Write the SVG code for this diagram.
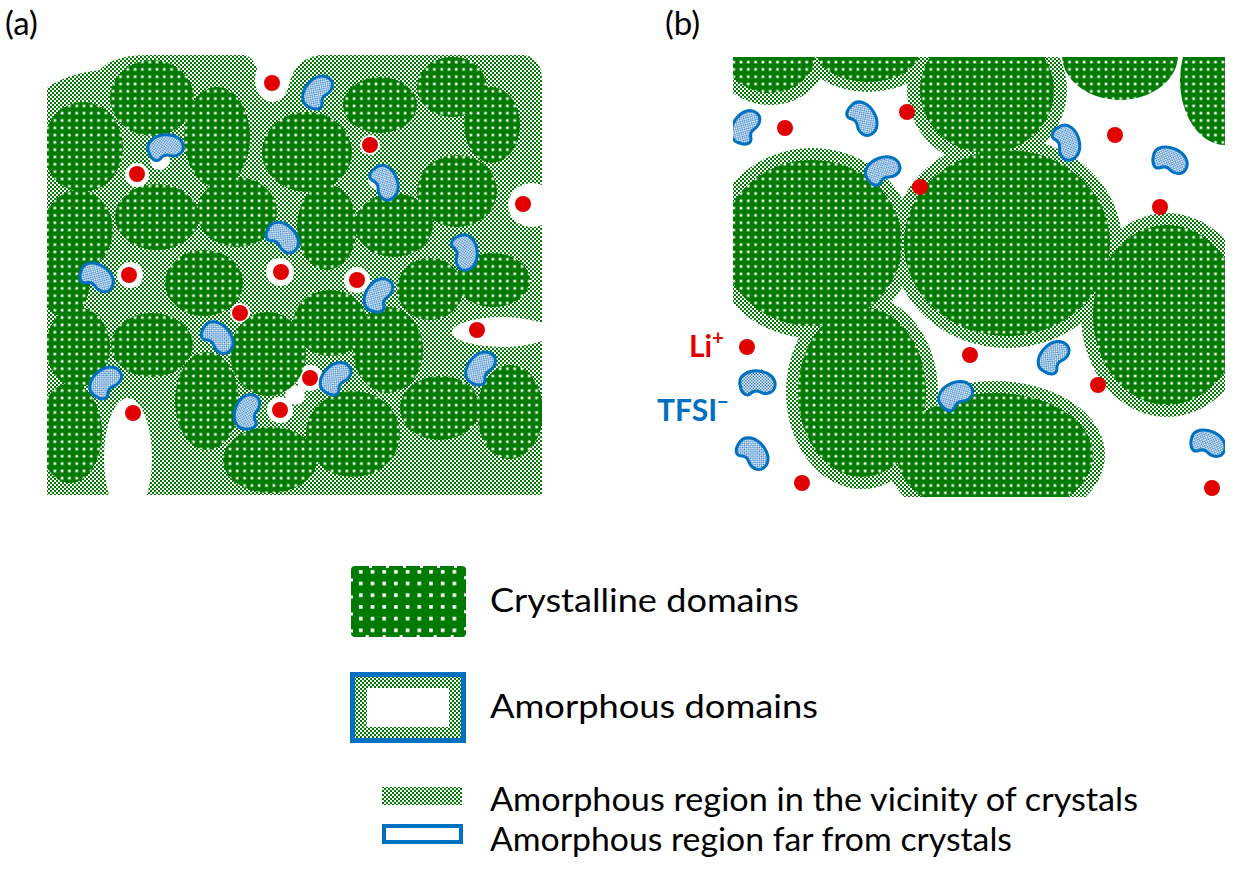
<svg xmlns="http://www.w3.org/2000/svg" xmlns:xlink="http://www.w3.org/1999/xlink" width="1238" height="894" viewBox="0 0 1238 894">
<style>
  .cr { fill: url(#crp); }
  .am { fill: url(#amp); }
  .wh { fill: #ffffff; }
  .li { fill: #e00000; }
  .lbl { font-family: Lato, "Liberation Sans", sans-serif; font-size: 32px; fill: #000; }
  .pl { font-family: Lato, "Liberation Sans", sans-serif; font-size: 33px; fill: #000; }
</style>
<defs>
  <pattern id="crp" width="7.3" height="7.3" patternUnits="userSpaceOnUse">
    <rect width="7.3" height="7.3" fill="#007a00"/>
    <rect x="2.4" y="2.4" width="2.6" height="2.6" fill="#ffffff"/>
  </pattern>
  <pattern id="crl" width="11.7" height="11.7" patternUnits="userSpaceOnUse" x="355" y="566">
    <rect width="11.7" height="11.7" fill="#007a00"/>
    <rect x="4" y="4" width="3.6" height="3.6" fill="#ffffff"/>
  </pattern>
  <pattern id="amp" width="4" height="4" patternUnits="userSpaceOnUse">
    <rect width="4" height="4" fill="#ffffff"/>
    <rect x="0" y="0" width="2" height="2" fill="#007a00"/>
    <rect x="2" y="2" width="2" height="2" fill="#007a00"/>
  </pattern>
  <pattern id="tfp" width="3" height="3" patternUnits="userSpaceOnUse">
    <rect width="3" height="3" fill="#ffffff"/>
    <rect x="0" y="0" width="1.5" height="1.5" fill="#2f7fc8"/>
    <rect x="1.5" y="1.5" width="1.5" height="1.5" fill="#2f7fc8"/>
  </pattern>
  <path id="bean" d="M -17,2 C -19,-8 -8,-13 2,-12 C 12,-11 19,-5 18,3 C 17,10 9,12 3,9 C -1,7 -4,8 -7,11 C -12,14 -16,9 -17,2 Z" fill="url(#tfp)" stroke="#0070c0" stroke-width="3"/>
  <clipPath id="clipA"><rect x="47" y="55" width="495" height="440"/></clipPath>
  <clipPath id="clipB"><rect x="733" y="57" width="492" height="440"/></clipPath>
</defs>

<rect width="1238" height="894" fill="#ffffff"/>

<text class="pl" x="5" y="35">(a)</text>
<text class="pl" x="665" y="35">(b)</text>

<g id="panel-a" clip-path="url(#clipA)">
  <path class="am" d="M47,88 C60,78 80,72 100,70 C110,58 130,55 150,55 L245,55 C255,58 258,70 262,85 C268,100 282,100 288,88 C292,70 300,58 320,55 L525,55 C538,58 542,68 542,80 L542,495 L47,495 Z"/>
  <g id="gaps-a" class="wh">
    <ellipse cx="272" cy="80" rx="17" ry="22"/>
    <ellipse cx="128" cy="458" rx="24" ry="60"/>
    <ellipse cx="502" cy="332" rx="50" ry="15"/>
    <ellipse cx="532" cy="205" rx="24" ry="22"/>
    <circle cx="137" cy="175" r="12"/>
    <circle cx="130" cy="275" r="13"/>
    <circle cx="280" cy="272" r="14"/>
    <circle cx="357" cy="280" r="13"/>
    <circle cx="240" cy="313" r="10"/>
    <circle cx="310" cy="378" r="13"/>
    <circle cx="280" cy="410" r="13"/>
    <circle cx="295" cy="395" r="10"/>
    <circle cx="370" cy="145" r="10"/>
    <circle cx="160" cy="160" r="10"/>
    <circle cx="378" cy="180" r="10"/>
  </g>
  <g id="crystals-a" class="cr">
    <ellipse cx="152" cy="98" rx="42" ry="38"/>
    <ellipse cx="83" cy="147" rx="40" ry="45"/>
    <ellipse cx="217" cy="137" rx="33" ry="50"/>
    <ellipse cx="307" cy="152" rx="45" ry="40"/>
    <ellipse cx="380" cy="105" rx="37" ry="28"/>
    <ellipse cx="452" cy="87" rx="35" ry="30"/>
    <ellipse cx="492" cy="125" rx="28" ry="38"/>
    <ellipse cx="457" cy="191" rx="40" ry="36"/>
    <ellipse cx="157" cy="217" rx="42" ry="33"/>
    <ellipse cx="78" cy="230" rx="35" ry="40"/>
    <ellipse cx="237" cy="212" rx="40" ry="35"/>
    <ellipse cx="327" cy="227" rx="30" ry="43"/>
    <ellipse cx="394" cy="225" rx="39" ry="32"/>
    <ellipse cx="204" cy="283" rx="39" ry="33"/>
    <ellipse cx="65" cy="280" rx="25" ry="37"/>
    <ellipse cx="430" cy="289" rx="33" ry="31"/>
    <ellipse cx="493" cy="280" rx="37" ry="27"/>
    <ellipse cx="152" cy="345" rx="41" ry="32"/>
    <ellipse cx="78" cy="347" rx="32" ry="40"/>
    <ellipse cx="268" cy="354" rx="38" ry="42"/>
    <ellipse cx="330" cy="323" rx="37" ry="33"/>
    <ellipse cx="388" cy="350" rx="35" ry="43"/>
    <ellipse cx="207" cy="401" rx="32" ry="49"/>
    <ellipse cx="70" cy="433" rx="32" ry="50"/>
    <ellipse cx="270" cy="460" rx="47" ry="33"/>
    <ellipse cx="353" cy="434" rx="47" ry="43"/>
    <ellipse cx="440" cy="408" rx="40" ry="32"/>
    <ellipse cx="510" cy="412" rx="33" ry="47"/>
  </g>
  <g id="tfsi-a">
    <use xlink:href="#bean" href="#bean" transform="translate(317,92) rotate(-55)"/>
    <use xlink:href="#bean" href="#bean" transform="translate(165,147) rotate(-10)"/>
    <use xlink:href="#bean" href="#bean" transform="translate(385,182) rotate(65)"/>
    <use xlink:href="#bean" href="#bean" transform="translate(283,237) rotate(40)"/>
    <use xlink:href="#bean" href="#bean" transform="translate(97,277) rotate(30)"/>
    <use xlink:href="#bean" href="#bean" transform="translate(465,252) rotate(80)"/>
    <use xlink:href="#bean" href="#bean" transform="translate(378,295) rotate(-60)"/>
    <use xlink:href="#bean" href="#bean" transform="translate(218,337) rotate(45)"/>
    <use xlink:href="#bean" href="#bean" transform="translate(105,382) rotate(-45)"/>
    <use xlink:href="#bean" href="#bean" transform="translate(335,378) rotate(-50)"/>
    <use xlink:href="#bean" href="#bean" transform="translate(247,412) rotate(-75)"/>
    <use xlink:href="#bean" href="#bean" transform="translate(480,368) rotate(-55)"/>
  </g>
  <g id="li-a" class="li">
    <circle cx="272" cy="83" r="8"/>
    <circle cx="137" cy="174" r="8"/>
    <circle cx="370" cy="145" r="8"/>
    <circle cx="523" cy="204" r="8"/>
    <circle cx="129" cy="275" r="8"/>
    <circle cx="281" cy="272" r="8"/>
    <circle cx="357" cy="280" r="8"/>
    <circle cx="240" cy="313" r="8"/>
    <circle cx="477" cy="330" r="8"/>
    <circle cx="310" cy="378" r="8"/>
    <circle cx="280" cy="410" r="8"/>
    <circle cx="133" cy="413" r="8"/>
  </g>
</g>

<g id="panel-b" clip-path="url(#clipB)">
  <g id="halos-b" class="am">
    <ellipse cx="770" cy="55" rx="57" ry="50"/>
    <ellipse cx="868" cy="50" rx="64" ry="42"/>
    <ellipse cx="987" cy="90" rx="80" ry="76"/>
    <ellipse cx="812" cy="243" rx="102" ry="95"/>
    <ellipse cx="1007" cy="243" rx="115" ry="105"/>
    <ellipse cx="1167" cy="315" rx="86" ry="102"/>
    <ellipse cx="862" cy="392" rx="76" ry="97"/>
    <ellipse cx="995" cy="455" rx="110" ry="74"/>
  </g>
  <g id="crystals-b" class="cr">
    <ellipse cx="770" cy="55" rx="45" ry="38"/>
    <ellipse cx="868" cy="50" rx="52" ry="32"/>
    <ellipse cx="987" cy="90" rx="67" ry="63"/>
    <ellipse cx="1120" cy="55" rx="58" ry="45"/>
    <ellipse cx="1225" cy="80" rx="45" ry="65"/>
    <ellipse cx="812" cy="243" rx="90" ry="83"/>
    <ellipse cx="1007" cy="243" rx="103" ry="93"/>
    <ellipse cx="1167" cy="315" rx="74" ry="90"/>
    <ellipse cx="862" cy="392" rx="64" ry="85"/>
    <ellipse cx="995" cy="455" rx="98" ry="62"/>
  </g>
  <g id="tfsi-b">
    <use xlink:href="#bean" href="#bean" transform="translate(745,127) rotate(-60)"/>
    <use xlink:href="#bean" href="#bean" transform="translate(863,118) rotate(55)"/>
    <use xlink:href="#bean" href="#bean" transform="translate(882,170) rotate(-25)"/>
    <use xlink:href="#bean" href="#bean" transform="translate(1067,142) rotate(70)"/>
    <use xlink:href="#bean" href="#bean" transform="translate(1170,160) rotate(20)"/>
    <use xlink:href="#bean" href="#bean" transform="translate(1053,357) rotate(-50)"/>
    <use xlink:href="#bean" href="#bean" transform="translate(955,395) rotate(-30)"/>
    <use xlink:href="#bean" href="#bean" transform="translate(1208,443) rotate(20)"/>
  </g>
  <g id="li-b" class="li">
    <circle cx="785" cy="128" r="8"/>
    <circle cx="907" cy="112" r="8"/>
    <circle cx="920" cy="187" r="8"/>
    <circle cx="1115" cy="135" r="8"/>
    <circle cx="1160" cy="207" r="8"/>
    <circle cx="970" cy="355" r="8"/>
    <circle cx="1098" cy="385" r="8"/>
    <circle cx="802" cy="483" r="8"/>
    <circle cx="1212" cy="488" r="8"/>
  </g>
</g>

<g id="ion-labels">
  <circle class="li" cx="747" cy="347" r="8"/>
  <use xlink:href="#bean" href="#bean" transform="translate(757,383) rotate(0)"/>
  <use xlink:href="#bean" href="#bean" transform="translate(753,453) rotate(45)"/>
  <text x="689" y="357" font-family="Lato, 'Liberation Sans', sans-serif" font-weight="bold" font-size="30" fill="#e00000">Li<tspan font-size="20" dy="-12">+</tspan></text>
  <text x="657" y="421" font-family="Lato, 'Liberation Sans', sans-serif" font-weight="bold" font-size="30" fill="#0070c0">TFSI<tspan font-size="20" dy="-12">−</tspan></text>
</g>

<g id="legend">
  <g id="legend-crystalline">
    <rect x="353" y="568" width="111" height="67" fill="url(#crl)" stroke="#007a00" stroke-width="4" stroke-dasharray="14 3" rx="2"/>
    <text class="lbl" x="490" y="612" textLength="309" lengthAdjust="spacingAndGlyphs">Crystalline domains</text>
  </g>
  <g id="legend-amorphous">
    <rect x="352.5" y="674.5" width="111" height="66" fill="url(#amp)" stroke="#0070c0" stroke-width="5"/>
    <rect x="367" y="688" width="82" height="39" fill="#ffffff"/>
    <text class="lbl" x="490" y="718" textLength="328" lengthAdjust="spacingAndGlyphs">Amorphous domains</text>
  </g>
  <g id="legend-vicinity">
    <rect x="382" y="787" width="80" height="18" fill="url(#amp)"/>
    <text class="lbl" x="490" y="811" textLength="648" lengthAdjust="spacingAndGlyphs">Amorphous region in the vicinity of crystals</text>
  </g>
  <g id="legend-far">
    <rect x="384" y="826" width="77" height="16" fill="#ffffff" stroke="#0070c0" stroke-width="4"/>
    <text class="lbl" x="490" y="851" textLength="522" lengthAdjust="spacingAndGlyphs">Amorphous region far from crystals</text>
  </g>
</g>
</svg>
